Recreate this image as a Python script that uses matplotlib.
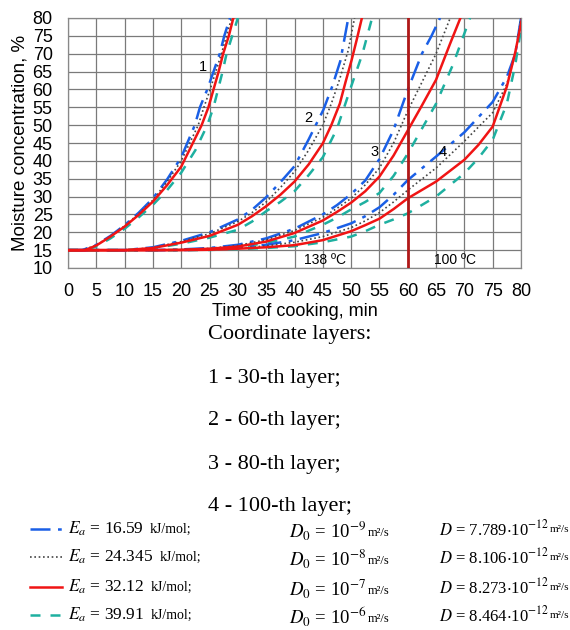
import numpy as np
import matplotlib.pyplot as plt

plt.rcParams['font.family'] = ['Liberation Sans', 'DejaVu Sans']
plt.rcParams['mathtext.fontset'] = 'stix'

# layer 1 (30-th layer)
t1_blue = [0, 2.5, 5, 7.5, 10, 12.5, 15, 17.5, 20, 22.4, 23.3, 24.6, 25.7, 26.8, 27.6, 28.6]
c1_blue = [15, 15, 16.5, 19, 22, 25.5, 29.5, 34.8, 41, 50, 55, 60, 65, 70, 75, 80]
t1_dot = [0, 2.5, 5, 7.5, 10, 12.5, 15, 17.5, 20, 23, 24, 25.1, 26.1, 27.1, 28, 28.9]
c1_dot = [15, 15, 16.4, 18.9, 21.8, 25.2, 29, 34.2, 40, 50, 55, 60, 65, 70, 75, 80]
t1_red = [0, 3, 5, 7.5, 10, 12.5, 15, 17.5, 20, 23.6, 24.8, 25.7, 26.6, 27.4, 28.4, 29.2]
c1_red = [15, 15, 16.3, 18.8, 21.6, 24.9, 28.6, 33.2, 38.4, 50, 55, 60, 65, 70, 75, 80]
t1_teal = [0, 3, 5, 7.5, 10, 12.5, 15, 17.5, 20, 22.5, 24.6, 25.7, 26.5, 27.3, 28, 29, 30]
c1_teal = [15, 15, 16, 18.3, 21, 24.2, 27.7, 31.8, 36.7, 43, 50, 55, 60, 65, 70, 75, 80]

# layer 2 (60-th layer)
t2_blue = [0, 10, 15, 20, 25, 30, 32.5, 35, 37.5, 40, 42.5, 45.1, 46.7, 48.1, 49.5]
c2_blue = [15, 15, 15.8, 17.6, 20, 23.6, 26.3, 29.8, 34, 38.5, 46, 54.3, 61, 68, 80]
t2_dot = [0, 10, 15, 20, 25, 30, 32.5, 35, 37.5, 40, 42.5, 45, 46.5, 48, 49.5, 50.6]
c2_dot = [15, 15, 15.7, 17.4, 19.6, 23, 25.5, 28.5, 32.5, 37, 43, 50, 56, 63, 71, 80]
t2_red = [0, 10, 15, 20, 25, 30, 32.5, 35, 37.5, 40, 42.5, 45, 46.5, 48, 49, 50.1, 51, 51.9]
c2_red = [15, 15, 15.6, 17.1, 19, 22.1, 24.5, 27.3, 30.5, 34.2, 39, 44.9, 50, 56, 62, 68.3, 74, 80]
t2_teal = [0, 10, 15, 20, 25, 30, 32.5, 35, 37.5, 40, 42.5, 45, 47.5, 50, 52, 53.7]
c2_teal = [15, 15, 15.5, 16.8, 18.5, 20.7, 23, 25.9, 28.5, 31.5, 36, 41, 49, 60.8, 70, 80]

# layer 3 (80-th layer)
t3_blue = [0, 15, 20, 25, 30, 35, 40, 45, 47.5, 50, 52.5, 55, 57.5, 60, 62.5, 64.2, 65.7]
c3_blue = [15, 15, 15.2, 15.6, 16.5, 18.3, 21, 25, 27.6, 30.7, 34.5, 40.5, 48.7, 59.9, 70, 75, 80]
t3_dot = [0, 15, 20, 25, 30, 35, 40, 45, 47.5, 50, 52.5, 55, 57.5, 60, 62.5, 65, 67.5]
c3_dot = [15, 15, 15.15, 15.5, 16.3, 17.9, 20.5, 24.2, 26.7, 29.5, 33.3, 38, 45, 54, 62, 70, 80]
t3_red = [0, 15, 20, 25, 30, 35, 40, 45, 47.5, 50, 52.5, 55, 57.5, 60, 62.5, 65, 67.5, 69.3]
c3_red = [15, 15, 15.1, 15.4, 16, 17.4, 19.8, 23.3, 25.7, 28.3, 31.5, 35.6, 41.5, 48.5, 55.5, 62.7, 72.9, 80]
t3_teal = [0, 15, 20, 25, 30, 35, 40, 45, 47.5, 50, 52.5, 55, 57.5, 60, 62.5, 65, 68, 71]
c3_teal = [15, 15, 15.05, 15.3, 15.8, 17, 18.8, 22.1, 24.1, 26.4, 28.5, 31, 35.8, 42, 49, 56, 67, 80]

# layer 4 (100-th layer)
t4_blue = [0, 20, 25, 30, 35, 40, 45, 50, 52.5, 55, 57.5, 60, 65, 70, 75, 77.5, 79, 80]
c4_blue = [15, 15, 15.2, 15.6, 16.5, 17.8, 19.8, 22.5, 24.5, 27, 30.5, 34.6, 41.2, 48, 56.5, 63.5, 70, 80]
t4_dot = [0, 20, 25, 30, 35, 40, 45, 50, 52.5, 55, 57.5, 60, 65, 70, 75, 77.5, 79, 80]
c4_dot = [15, 15, 15.15, 15.5, 16.2, 17.2, 18.8, 21.3, 23.2, 25.5, 28.5, 31.8, 38, 45.5, 53.5, 61.5, 70, 80]
t4_red = [0, 20, 25, 30, 35, 40, 45, 50, 52.5, 55, 57.5, 60, 65, 70, 72.5, 75, 77.5, 79, 80.2]
c4_red = [15, 15, 15.1, 15.4, 15.8, 16.4, 17.8, 20.3, 22, 23.8, 26.5, 29.5, 34.2, 40.3, 44.5, 49.6, 60.8, 70.5, 80]
t4_teal = [0, 20, 25, 30, 35, 40, 45, 50, 52.5, 55, 57.5, 60, 65, 70, 72.5, 75, 77.5, 79, 80.3]
c4_teal = [15, 15, 15.05, 15.3, 15.6, 16.1, 17.2, 18.8, 20.3, 22.1, 23.6, 25.3, 30, 36.5, 40.8, 45.9, 56, 67, 80]

layer_labels = ['1', '2', '3', '4']
label_t = [23.9, 42.4, 54.1, 66.1]
label_c = [66.3, 51.9, 42.6, 42.6]

ea_texts = ['16.59', '24.345', '32.12', '39.91']
d0_exp = ['-9', '-8', '-7', '-6']
d_vals = ['7.789', '8.106', '8.273', '8.464']

blue_style = dict(color='#1a5fe6', lw=1.8, dashes=(8, 3, 1.5, 3))
dot_style = dict(color='#444444', lw=1.2, dashes=(1, 1.6))
red_style = dict(color='#f01414', lw=1.8, linestyle='-')
teal_style = dict(color='#1eb0a0', lw=1.8, dashes=(4, 4))

fig = plt.figure(figsize=(5.7, 6.3), dpi=100)
ax = fig.add_axes([68/570, 1-268/630, 453/570, 250/630])

layers = [
    (t1_blue, c1_blue, t1_dot, c1_dot, t1_red, c1_red, t1_teal, c1_teal),
    (t2_blue, c2_blue, t2_dot, c2_dot, t2_red, c2_red, t2_teal, c2_teal),
    (t3_blue, c3_blue, t3_dot, c3_dot, t3_red, c3_red, t3_teal, c3_teal),
    (t4_blue, c4_blue, t4_dot, c4_dot, t4_red, c4_red, t4_teal, c4_teal),
]
for tb, cb, td, cd, tr, cr, tt, ct in layers:
    ax.plot(tb, cb, zorder=3, **blue_style)
    ax.plot(td, cd, zorder=3, **dot_style)
    ax.plot(tt, ct, zorder=3, **teal_style)
    ax.plot(tr, cr, zorder=4, **red_style)

for lab, tx, cy in zip(layer_labels, label_t, label_c):
    ax.text(tx, cy, lab, fontsize=10.5, ha='center', va='center', zorder=5)

ax.axvline(60, color='#b01818', lw=2, zorder=5)
ax.text(45.4, 12.3, '138 \u00baC', fontsize=10, ha='center', va='center')
ax.text(68.4, 12.3, '100 \u00baC', fontsize=10, ha='center', va='center')

ax.set_xlim(0, 80)
ax.set_ylim(10, 80)
ax.set_xticks(np.arange(0, 81, 5))
ax.set_yticks(np.arange(10, 81, 5))
ax.grid(True, color='#7a7a7a', lw=0.9)
ax.set_axisbelow(True)
ax.tick_params(length=0, labelsize=13, pad=11)
for s in ax.spines.values():
    s.set_color('#888888')
    s.set_linewidth(0.9)
ax.set_xlabel('Time of cooking, min', fontsize=13, labelpad=2)
ax.set_ylabel('Moisture concentration, %', fontsize=13.5, labelpad=3)

# text block below the chart
serif = 'Liberation Serif'
fig.text(208/570, 1-335/630, 'Coordinate layers:', family=serif, fontsize=16, va='center')
layer_names = ['1 - 30-th layer;', '2 - 60-th layer;', '3 - 80-th layer;', '4 - 100-th layer;']
for i, name in enumerate(layer_names):
    fig.text(208/570, 1-(378+43*i)/630, name, family=serif, fontsize=16, va='center')

row_y = [529, 557, 587, 615]
styles = [blue_style, dot_style, red_style, teal_style]
for y, st, ea, d0, d in zip(row_y, styles, ea_texts, d0_exp, d_vals):
    yy = 1 - y/630
    fig.add_artist(plt.Line2D([30/570, 62/570], [yy, yy], transform=fig.transFigure, **st))
    t_ea = fig.text(68/570, yy, r'$E_a$ = ' + ea, family=serif, fontsize=12.5, va='center')
    fig.add_artist(plt.Annotation('kJ/mol;', xy=(1, 0.5), xycoords=t_ea, xytext=(5, 0),
                                  textcoords='offset points', va='center', family=serif, fontsize=10))
    t_d0 = fig.text(289/570, yy - 0.003, r'$D_0$ = 10$^{%s}$' % d0, family=serif, fontsize=13.5, va='center')
    fig.add_artist(plt.Annotation('m\u00b2/s', xy=(1, 0.4), xycoords=t_d0, xytext=(1, 0),
                                  textcoords='offset points', va='center', family=serif, fontsize=9))
    fig.text(439/570, yy, r'$D$ = ' + d + r'$\cdot$10$^{-12}$', family=serif, fontsize=12, va='center')
    fig.text(569/570, yy, 'm\u00b2/s', family=serif, fontsize=8, va='center', ha='right')

fig.savefig('out.png', dpi=100)
